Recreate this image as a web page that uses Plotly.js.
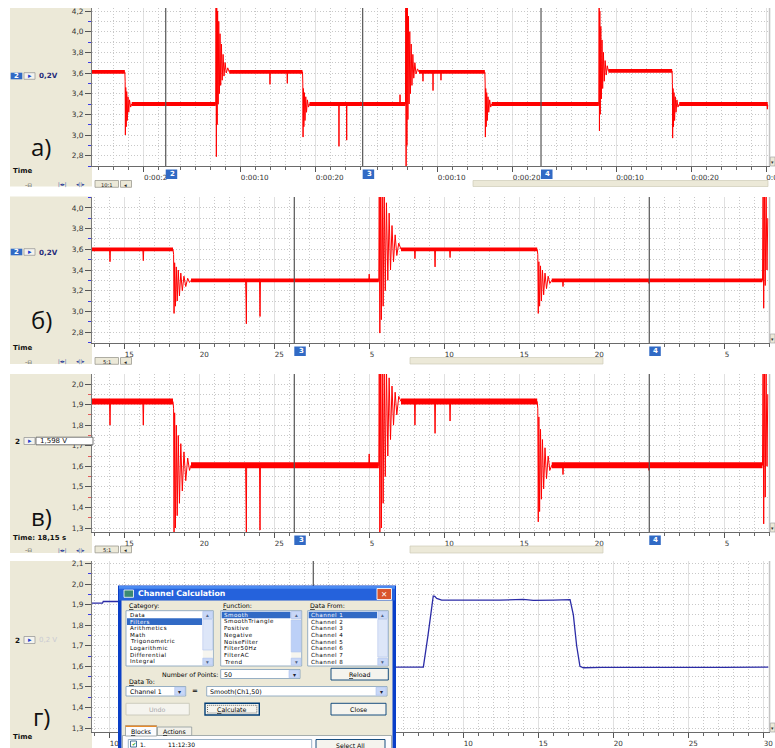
<!DOCTYPE html>
<html><head><meta charset="utf-8">
<script src="https://cdn.plot.ly/plotly-3.0.1.min.js"></script>
<style>html,body{margin:0;padding:0;background:#fff}#chart{width:775px;height:748px}</style>
</head><body><div id="chart"></div>
<script>
// ===== DATA (time in displayed seconds from left edge of each panel, value in V) =====
// panel a) channel 2, 0.2 V/div, 10:1
const tA = [0,4.38,4.42,4.45,4.5,4.56,4.63,4.7,4.8,4.9,5.0,5.15,5.3,
16.5,16.54,16.58,16.63,16.69,16.75,16.82,16.9,16.98,17.07,17.16,17.26,17.36,17.48,17.6,17.75,17.9,18.1,18.3,
23.7,23.73,23.76,26.0,26.04,26.08,
28.07,28.11,28.14,28.19,28.25,28.32,28.4,28.5,28.6,28.72,28.86,29.0,
32.9,32.93,32.96,33.93,33.96,33.99,41.04,41.07,41.1,
41.8,41.84,41.88,41.93,41.99,42.05,42.12,42.2,42.28,42.37,42.46,42.56,42.66,42.78,42.9,43.05,43.2,43.4,43.6,
44.1,44.13,44.16,45.44,45.47,45.5,46.5,46.53,46.56,
52.38,52.42,52.45,52.5,52.56,52.63,52.71,52.8,52.9,53.02,53.16,53.3,
67.58,67.62,67.66,67.71,67.77,67.84,67.92,68.0,68.09,68.19,68.3,68.42,68.56,68.7,68.85,
77.35,77.39,77.42,77.47,77.53,77.6,77.68,77.77,77.87,77.99,78.13,78.3,
90.0,90.05,90.1];
const vA = [3.61,3.61,3.52,3.0,3.46,3.08,3.42,3.14,3.37,3.22,3.34,3.27,3.3,
3.3,4.3,2.79,4.3,3.1,4.2,3.3,4.1,3.4,3.98,3.48,3.88,3.53,3.78,3.57,3.7,3.6,3.65,3.61,
3.61,3.49,3.61,3.61,3.5,3.61,
3.61,3.5,2.98,3.45,3.08,3.41,3.14,3.37,3.22,3.34,3.27,3.3,
3.3,2.89,3.3,3.3,2.95,3.3,3.3,3.39,3.3,
3.3,4.3,2.7,4.3,2.9,4.3,3.15,4.15,3.3,4.0,3.4,3.88,3.48,3.78,3.55,3.7,3.59,3.64,3.61,
3.61,3.52,3.61,3.61,3.43,3.61,3.61,3.53,3.61,
3.61,3.5,2.98,3.45,3.08,3.41,3.14,3.37,3.22,3.34,3.27,3.3,
3.3,4.25,3.04,4.2,3.2,4.05,3.35,3.92,3.45,3.8,3.52,3.72,3.58,3.67,3.62,
3.62,3.5,2.97,3.45,3.08,3.41,3.14,3.37,3.22,3.34,3.27,3.3,
3.3,3.25,3.29];
const levelStartA = [0,5.3,18.3,29.0,43.6,53.3,68.85,78.3];
const levelEndA   = [4.38,16.5,28.07,41.8,52.38,67.58,77.35,90.1];
const levelValA   = [3.61,3.30,3.61,3.30,3.61,3.30,3.62,3.30];
const segStartA = [-13.07, 9.83, 36.09, 59.87];
const segEndA   = [9.83, 36.09, 59.87, 90.4];
const markerLabelsA = ['2','3','4'];

// panels б) and в) share the time base (5:1)
const tB = [0,1.17,1.2,1.23,3.39,3.42,3.45,5.40,
5.44,5.47,5.51,5.56,5.62,5.68,5.75,5.83,5.92,6.02,6.13,6.25,6.38,6.5,6.6,
10.24,10.27,10.29,10.31,
11.17,11.2,11.23,
18.45,18.48,18.51,
19.12,
19.15,19.19,19.24,19.29,19.35,19.41,19.48,19.55,19.63,19.72,19.81,19.9,20.0,20.1,20.21,20.32,20.45,20.6,
21.5,21.53,21.56,22.84,22.87,22.9,23.84,23.87,23.9,
29.68,
29.72,29.75,29.79,29.84,29.9,29.96,30.03,30.11,30.2,30.3,30.41,30.52,30.65,
31.37,31.4,31.43,37.1,37.13,37.16,
44.7,
44.74,44.78,44.83,44.88,44.94,45.0,45.05];
const vB = [3.60,3.60,3.48,3.60,3.60,3.49,3.60,3.60,
3.55,2.98,3.47,3.05,3.43,3.1,3.4,3.15,3.37,3.2,3.34,3.24,3.32,3.28,3.30,
3.3,3.1,2.88,3.3,
3.3,2.95,3.3,
3.3,3.36,3.3,
3.3,
4.2,2.79,4.2,2.92,4.2,3.05,4.2,3.2,4.05,3.3,3.95,3.4,3.83,3.48,3.74,3.54,3.66,3.6,
3.6,3.51,3.6,3.6,3.43,3.6,3.6,3.52,3.6,
3.6,
3.55,2.98,3.48,3.05,3.44,3.1,3.4,3.16,3.37,3.22,3.34,3.27,3.3,
3.3,3.24,3.3,3.3,3.27,3.3,
3.3,
4.2,3.03,4.2,3.25,4.15,3.4,3.9];
const vC = [1.915,1.915,1.80,1.915,1.915,1.80,1.915,1.915,
1.88,1.28,1.86,1.3,1.8,1.36,1.75,1.42,1.71,1.48,1.67,1.53,1.64,1.58,1.605,
1.605,1.41,1.28,1.605,
1.605,1.29,1.605,
1.605,1.66,1.605,
1.605,
2.1,1.28,2.1,1.3,2.1,1.42,2.1,1.55,2.08,1.65,2.03,1.73,1.99,1.8,1.96,1.85,1.94,1.915,
1.915,1.80,1.915,1.915,1.76,1.915,1.915,1.82,1.915,
1.915,
1.88,1.33,1.84,1.38,1.78,1.44,1.73,1.49,1.69,1.54,1.65,1.58,1.605,
1.605,1.56,1.605,1.605,1.58,1.605,
1.605,
2.1,1.32,2.1,1.45,2.05,1.6,1.95];
const levelStartB = [0,6.6,20.6,30.65];
const levelEndB   = [5.40,19.12,29.68,44.7];
const levelValB   = [3.60,3.30,3.60,3.30];
const levelValC   = [1.915,1.605,1.915,1.605];
const segStartB = [-12.847, 13.487, 37.153];
const segEndB   = [13.487, 37.153, 45.2];
const markerLabelsB = ['3','4'];

// panel г) smoothed channel (part hidden behind dialog)
const tD = [0,0.7,0.75,1.8,null,20.2,22.09,22.4,22.69,22.75,22.85,22.98,23.31,25.65,27.2,28.75,29.42,30.75,31.75,31.87,32.09,32.31,32.53,32.76,34,36.5,39,42,45.09];
const vD = [1.907,1.907,1.915,1.915,null,1.596,1.596,1.75,1.935,1.942,1.94,1.93,1.922,1.92,1.922,1.925,1.921,1.922,1.925,1.924,1.85,1.70,1.60,1.593,1.595,1.594,1.596,1.595,1.596];
const segStartD = [-8.847, 14.753];
const segEndD   = [14.753, 45.2];
const dialogSpanD = [1.75, 20.4];   // time range covered by the dialog window

// dialog list contents
const categoryItems = ['Data','Filters','Arithmetics','Math','Trigonometric','Logarithmic','Differential','Integral'];
const functionItems = ['Smooth','SmoothTriangle','Positive','Negative','NoiseFilter','Filter50Hz','FilterAC','Trend'];
const dataFromItems = ['Channel 1','Channel 2','Channel 3','Channel 4','Channel 5','Channel 6','Channel 7','Channel 8'];
const panelLabels = ['a)','б)','в)','г)'];

// ===== helpers =====
const W=775,H=748;
const px=x=>x/W, py=y=>1-y/H;
const BEIGE='#ECE9D8', SEL='#316AC5', FONT='DejaVu Sans';
function R(x0,y0,x1,y1,fill,line,lw,layer,dash){
  return {type:'rect',xref:'paper',yref:'paper',x0:px(x0),x1:px(x1),y0:py(y1),y1:py(y0),
    fillcolor:fill||'rgba(0,0,0,0)',line:{color:line||'rgba(0,0,0,0)',width:line?(lw||1):0,dash:dash||'solid'},layer:layer||'above'};
}
function T(x,y,text,size,color,anchor,family){
  return {xref:'paper',yref:'paper',x:px(x),y:py(y),text:text,showarrow:false,xanchor:anchor||'left',yanchor:'middle',
    font:{family:family||FONT,size:size||6.3,color:color||'#000'},borderpad:0};
}
function band(s,e,v){const x=[],y=[];for(let i=0;i<s.length;i++){x.push(s[i],e[i],null);y.push(v[i],v[i],null);}return {x,y};}
function segTicks(starts,ends,step,minorStep,lo,hi,fmt,skip){
  const vals=[],text=[],minor=[];
  starts.forEach((s,i)=>{
    for(let k=1;k<200;k++){
      const secs=k*minorStep, p=s+secs;
      if(p>=ends[i]-1e-6) break;
      if(p<lo||p>hi) continue;
      if(Math.abs(secs/step-Math.round(secs/step))<1e-6){
        if(skip && p>skip[0] && p<skip[1]) { minor.push(p); continue; }
        vals.push(p);text.push(fmt(secs));
      } else minor.push(p);
    }
  });
  return {vals,text,minor};
}
const fmtA=s=>'0:00:'+String(Math.round(s)).padStart(2,'0');
const fmtB=s=>{const n=Math.round(s);return n<10?n+'\u2007':String(n);};

const XDOM=[92/W,770/W];
function xAxis(range,tk,shift,anchor){
  return {domain:XDOM,range:range,anchor:anchor,tickmode:'array',tickvals:tk.vals,ticktext:tk.text,
    ticks:'outside',ticklen:5,tickcolor:'#555',tickwidth:1,showline:true,linecolor:'#6a6a6a',linewidth:1,
    showgrid:true,gridcolor:'#e0e0e0',gridwidth:1,zeroline:false,
    tickfont:{family:FONT,size:7.2,color:'#333'},ticklabelshift:shift,ticklabelstandoff:-1,ticklabeloverflow:'allow',
    minor:{tickmode:'array',tickvals:tk.minor,ticks:'outside',ticklen:3,tickcolor:'#666',tickwidth:1,
      showgrid:true,gridcolor:'#c8c8c8',griddash:'1px,2px',gridwidth:1},fixedrange:true};
}
function yAxis(dom,range,dtick,mdtick,mcolor,anchor){
  return {domain:dom,range:range,anchor:anchor,tickmode:'linear',tick0:0,dtick:dtick,tickformat:'.1f',
    ticks:'outside',ticklen:6,tickcolor:'#555',tickwidth:1,showline:true,linecolor:'#7a7a7a',linewidth:1,
    showgrid:true,gridcolor:'#c8c8c8',griddash:'1px,2px',zeroline:false,
    tickfont:{family:FONT,size:7.4,color:'#333'},
    minor:{tick0:0,dtick:mdtick,ticks:'outside',ticklen:3,tickcolor:mcolor,tickwidth:1,
      showgrid:true,gridcolor:'#c8c8c8',griddash:'1px,2px'},fixedrange:true};
}

const rA=[0,90.4], rB=[0,45.2];
const tkA=segTicks(segStartA,segEndA,10,2,rA[0],rA[1],fmtA);
const tkB=segTicks(segStartB,segEndB,5,1,rB[0],rB[1],fmtB);
const tkD=segTicks(segStartD,segEndD,5,1,rB[0],rB[1],fmtB,dialogSpanD);
// the first label of panel a) is partly hidden by marker 2 in the original
tkA.text[0]='0:00:2\u2007';

const bA=band(levelStartA,levelEndA,levelValA);
const bB=band(levelStartB,levelEndB,levelValB);
const bC=band(levelStartB,levelEndB,levelValC);
const RED='#ff0000';
const traces=[
  {x:bA.x,y:bA.y,xaxis:'x',yaxis:'y',mode:'lines',line:{color:RED,width:3.8},hoverinfo:'skip'},
  {x:tA,y:vA,xaxis:'x',yaxis:'y',mode:'lines',line:{color:RED,width:1},hoverinfo:'skip'},
  {x:bB.x,y:bB.y,xaxis:'x2',yaxis:'y2',mode:'lines',line:{color:RED,width:3.8},hoverinfo:'skip'},
  {x:tB,y:vB,xaxis:'x2',yaxis:'y2',mode:'lines',line:{color:RED,width:1},hoverinfo:'skip'},
  {x:bC.x,y:bC.y,xaxis:'x3',yaxis:'y3',mode:'lines',line:{color:RED,width:6},hoverinfo:'skip'},
  {x:tB,y:vC,xaxis:'x3',yaxis:'y3',mode:'lines',line:{color:RED,width:1},hoverinfo:'skip'},
  {x:tD,y:vD,xaxis:'x4',yaxis:'y4',mode:'lines',line:{color:'#2b2ba6',width:1.3},connectgaps:false,hoverinfo:'skip'}
];

// panel geometry (pixels)
const P=[
  {top:8,bot:166,btop:8,bbot:186.5,lab:76},
  {top:197,bot:343,btop:196.5,bbot:364,lab:252},
  {top:374,bot:532,btop:374,bbot:553,lab:441},
  {top:561,bot:732,btop:561,bbot:748,lab:640}
];
const shapes=[], ann=[];
P.forEach(p=>{
  shapes.push(R(10,p.btop,92,p.bbot,BEIGE,null,0,'below'));
  shapes.push(R(768.8,p.top,770.3,p.bot,'#c4c4c4',null,0,'above'));
  shapes.push(R(770.3,p.bot-9,775,p.bot,BEIGE,'#a8a8a8',0.7,'above'));
  ann.push(T(772.6,p.bot-4.5,'▾',5,'#333','center'));
});
// toolbar rows
[[180.5,'10:1'],[357.5,'5:1'],[546,'5:1']].forEach(([y,txt])=>{
  shapes.push(R(95,y,118.5,y+6.8,BEIGE,'#9c9a90',0.8));
  shapes.push(R(120.5,y,131.5,y+6.8,BEIGE,'#9c9a90',0.8));
  ann.push(T(106.8,y+4.4,txt,5.2,'#222','center'));
  ann.push(T(126,y+4.4,'◂',5.2,'#222','center'));
  ann.push(T(24,y+4.2,'–⊟',5.2,'#333','left'));
  ann.push(T(57.5,y+4.2,'|◂▸|',5,'#2b3f9a','left'));
  ann.push(T(75,y+4.2,'◂||▸',5,'#2b3f9a','left'));
});
shapes.push(R(473,180.5,768,186.5,BEIGE,'#cfcbb8',0.7));
shapes.push(R(410,357.5,603,364,BEIGE,'#cfcbb8',0.7));
shapes.push(R(410,546,603,553,BEIGE,'#cfcbb8',0.7));
// time labels
ann.push(T(11.5,171.5,'<b>Time</b>',7,'#111'));
ann.push(T(11.5,348.5,'<b>Time</b>',7,'#111'));
ann.push(T(11.5,537.8,'<b>Time: 18,15 s</b>',7,'#111'));
ann.push(T(11.5,737,'<b>Time</b>',7,'#111'));
// channel labels
[0,1].forEach(i=>{
  const y=P[i].lab;
  shapes.push(R(10.7,y-3.3,22.3,y+3.3,SEL));
  ann.push(T(16.5,y,'<b>2</b>',7,'#fff','center'));
  shapes.push(R(24,y-3.3,35,y+3.3,'#f4f3ee','#9a9a9a',0.8));
  ann.push(T(29.5,y,'▸',7,'#2040d0','center'));
  ann.push(T(38,y,'<b>0,2V</b>',7.2,'#1f2a7a'));
});
{ const y=P[2].lab;
  ann.push(T(17,y,'<b>2</b>',7.2,'#111','center'));
  shapes.push(R(24,y-3.5,35,y+3.5,'#f4f3ee','#9a9a9a',0.8));
  ann.push(T(29.5,y,'▸',7,'#2040d0','center'));
  shapes.push(R(36,y-3.8,93,y+3.8,'#ffffff','#555',0.8));
  ann.push(T(38.5,y,'1,598 V',7,'#111'));
}
{ const y=P[3].lab;
  ann.push(T(17,y,'<b>2</b>',7.2,'#111','center'));
  shapes.push(R(24,y-3.5,35,y+3.5,'#f4f3ee','#9a9a9a',0.8));
  ann.push(T(29.5,y,'▸',7,'#2040d0','center'));
  ann.push(T(38,y,'0,2 V',7,'#c9c9d2'));
}
// panel letters
[[146,0],[319,1],[516,2],[716,3]].forEach(([y,i])=>ann.push(T(41,y,panelLabels[i],24,'#111','center','Open Sans')));

// marker lines + boxes
function markers(starts,labels,xname,yname,bot,withBox){
  starts.slice(1).forEach((m,i)=>{
    shapes.push({type:'line',xref:xname,yref:yname+' domain',x0:m,x1:m,y0:0,y1:1,line:{color:'#555',width:1.2},layer:'above'});
    if(withBox){
      shapes.push({type:'rect',xref:xname,xsizemode:'pixel',xanchor:m,x0:0,x1:11.5,yref:'paper',y0:py(bot+13),y1:py(bot+3.5),fillcolor:SEL,line:{width:0},layer:'above'});
      ann.push({xref:xname,x:m,xanchor:'left',xshift:3.2,yref:'paper',y:py(bot+8.3),yanchor:'middle',text:'<b>'+labels[i]+'</b>',showarrow:false,font:{family:FONT,size:7,color:'#fff'},borderpad:0});
    }
  });
}
markers(segStartA,markerLabelsA,'x','y',166,true);
markers(segStartB,markerLabelsB,'x2','y2',343,true);
markers(segStartB,markerLabelsB,'x3','y3',532,true);
markers(segStartD,['3'],'x4','y4',732,false);

// ===== dialog "Channel Calculation" =====
const LS=t=>'<span style="letter-spacing:0.45px">'+t+'</span>';
shapes.push(R(118,585.5,396,749,'#0a3fc8'));
shapes.push(R(119,586,395,600.5,'#2562dc'));
shapes.push(R(119,586,395,588.8,'#4a8af2'));
shapes.push(R(121.5,600.5,392.5,749,BEIGE));
shapes.push(R(124,590,133.5,597.3,'#3a8a72','#ffffff',0.8));
shapes.push(R(377,588.5,391.5,599.5,'#d9552d','#ffffff',0.9));
ann.push(T(137,593.6,'<b>Channel Calculation</b>',7.8,'#ffffff'));
ann.push(T(384.3,594,'<b>✕</b>',7.5,'#ffffff','center'));
ann.push(T(127.5,605.8,'<u>C</u>ategory:'));
ann.push(T(221.5,605.8,'<u>F</u>unction:'));
ann.push(T(309,605.8,'<u>D</u>ata From:'));
function listBox(x0,x1,items,selIdx,thumb){
  shapes.push(R(x0,610.7,x1,666,'#ffffff','#7f9db9',0.8));
  const sx0=x1-10.5, sx1=x1-0.8;
  shapes.push(R(sx0,611.5,sx1,665.2,'#f6f5ef'));
  shapes.push(R(sx0,thumb[0],sx1,thumb[1],thumb[2],'#b3c6ee',0.6));
  shapes.push(R(sx0,611.5,sx1,618.5,'#c8d7f7','#a9bfee',0.6));
  shapes.push(R(sx0,658.2,sx1,665.2,'#c8d7f7','#a9bfee',0.6));
  ann.push(T((sx0+sx1)/2,615,'▴',5.5,'#4d6185','center'));
  ann.push(T((sx0+sx1)/2,661.7,'▾',5.5,'#4d6185','center'));
  const y0=615, step=6.67;
  shapes.push(R(x0+1,y0+selIdx*step-3.3,sx0-0.8,y0+selIdx*step+3.3,SEL));
  items.forEach((it,i)=>ann.push(T(x0+2.5,y0+i*step,LS(it),5.6,i===selIdx?'#ffffff':'#000')));
}
listBox(126,213.3,categoryItems,1,[619.5,650,'#dde6f8']);
listBox(220.7,301.7,functionItems,0,[620,652,'#bcd0f7']);
listBox(307.7,388.3,dataFromItems,0,[619.5,657,'#dde6f8']);
ann.push(T(218.5,674,'Number of Points:',6.3,'#000','right'));
function combo(x0,x1,y0,y1,txt){
  shapes.push(R(x0,y0,x1,y1,'#ffffff','#7f9db9',0.8));
  shapes.push(R(x1-11,y0+0.8,x1-0.8,y1-0.8,'#c8d7f7','#a9bfee',0.6));
  ann.push(T(x0+2.5,(y0+y1)/2,txt,6.3));
  ann.push(T(x1-5.9,(y0+y1)/2,'▾',6,'#223','center'));
}
combo(220.7,300,669.5,678.5,'50');
function button(x0,x1,y0,y1,txt,col,border,lw){
  shapes.push(R(x0,y0,x1,y1,'#f5f4ee',border||'#003c74',lw||0.9));
  ann.push(T((x0+x1)/2,(y0+y1)/2+0.2,txt,6.3,col||'#000','center'));
}
button(331,388.3,668.3,680,'<u>R</u>eload');
ann.push(T(127.5,681.8,'<u>D</u>ata To:'));
combo(126,185.7,686.5,696,'Channel 1');
ann.push(T(195,691.3,'<b>=</b>',7,'#000','center'));
combo(206.7,387,686.5,696,'Smooth(Ch1,50)');
button(126,189.3,703.3,715,'Undo','#a7a6aa','#c9c7ba');
button(205,259.3,703.3,715,'<u>C</u>alculate','#000','#003c74',1.4);
shapes.push(R(207.5,705.3,256.8,713,null,'#333',0.7,'above','1px,1px'));
button(331,386,703.3,715,'Close');
shapes.push(R(122.5,735.5,391.5,749.5,'#fcfcfe','#919b9c',0.8));
shapes.push(R(157.5,727,191.7,735.5,'#f2f1ea','#919b9c',0.8));
shapes.push(R(125.5,725.5,156.7,736,'#fcfcfe','#919b9c',0.8));
shapes.push(R(125.5,725.5,156.7,727,'#e68b2c'));
ann.push(T(141.1,731,'<u>B</u>locks',6.2,'#000','center'));
ann.push(T(174.6,731.4,'<u>A</u>ctions',6.2,'#000','center'));
shapes.push(R(128.3,739.5,311.7,751,'#ffffff','#7f9db9',0.8));
shapes.push(R(130.5,741,136.5,747,'#ffffff','#1c5180',0.8));
ann.push(T(133.5,744.1,'✔',5.2,'#21a121','center'));
ann.push(T(139,744.4,'1.',6));
ann.push(T(166.5,744.4,'11:12:30',6));
shapes.push(R(316,739.5,385,751,'#f5f4ee','#003c74',0.9));
ann.push(T(350.5,745.2,'Select All',6.2,'#000','center'));

const layout={
  width:W,height:H,margin:{l:0,r:0,t:0,b:0,pad:0},paper_bgcolor:'#ffffff',plot_bgcolor:'#ffffff',
  showlegend:false,separators:', ',
  xaxis: xAxis(rA,tkA,14,'y'),
  yaxis: yAxis([1-166/H,1-8/H],[2.70,4.229],0.2,0.1,'#3a3ae6','x'),
  xaxis2:xAxis(rB,tkB,5,'y2'),
  yaxis2:yAxis([1-343/H,1-197/H],[2.694,4.106],0.2,0.1,'#3a3ae6','x2'),
  xaxis3:xAxis(rB,tkB,5,'y3'),
  yaxis3:yAxis([1-532/H,1-374/H],[1.2806,2.0486],0.1,0.05,'#e05a5a','x3'),
  xaxis4:xAxis(rB,tkD,5,'y4'),
  yaxis4:yAxis([1-732/H,1-561/H],[1.2806,2.112],0.1,0.05,'#3a3ae6','x4'),
  shapes:shapes,annotations:ann
};
Plotly.newPlot('chart',traces,layout,{staticPlot:true,displayModeBar:false});
</script></body></html>
